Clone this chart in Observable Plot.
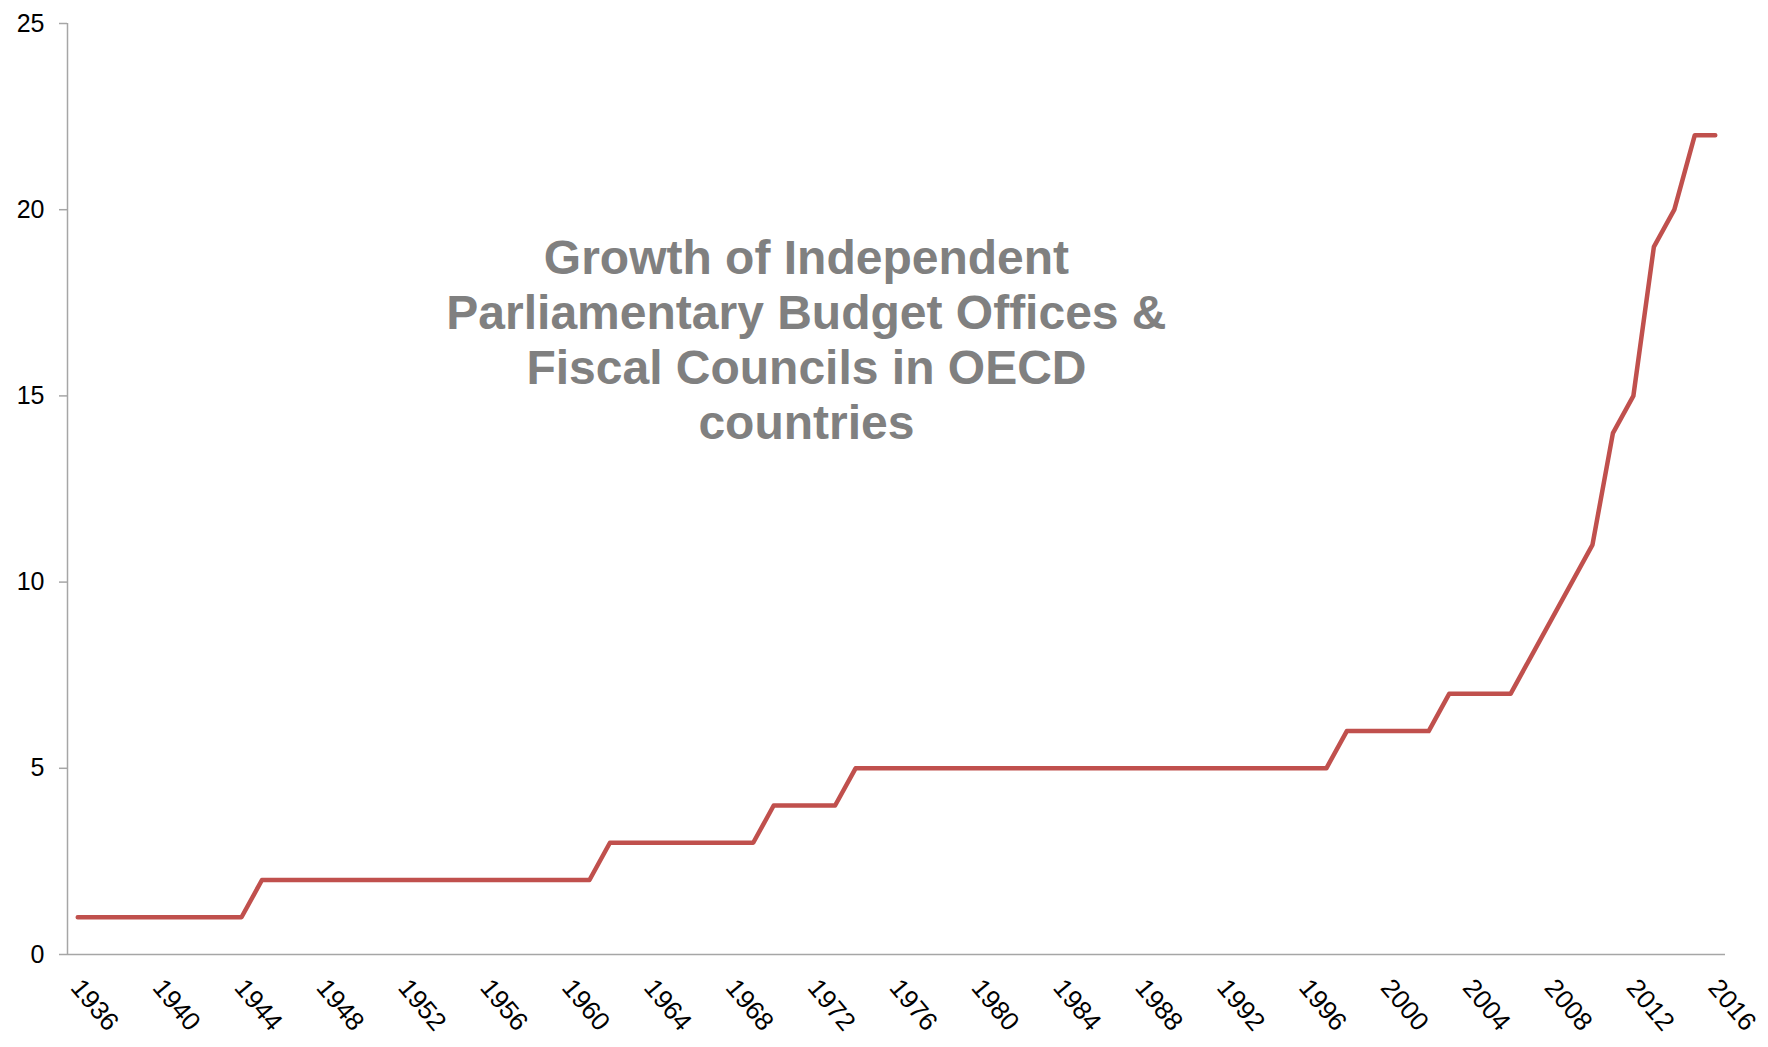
<!DOCTYPE html>
<html>
<head>
<meta charset="utf-8">
<script src="https://cdn.jsdelivr.net/npm/d3@7"></script>
<script src="https://cdn.jsdelivr.net/npm/@observablehq/plot@0.6"></script>
<style>
  html, body { margin: 0; padding: 0; background: #fff; overflow: hidden; }
  #chart svg { display: block; }
</style>
</head>
<body>
<div id="chart"></div>
<script>
// Years (categories)
const years = [
  1936, 1937, 1938, 1939, 1940, 1941, 1942, 1943, 1944, 1945,
  1946, 1947, 1948, 1949, 1950, 1951, 1952, 1953, 1954, 1955,
  1956, 1957, 1958, 1959, 1960, 1961, 1962, 1963, 1964, 1965,
  1966, 1967, 1968, 1969, 1970, 1971, 1972, 1973, 1974, 1975,
  1976, 1977, 1978, 1979, 1980, 1981, 1982, 1983, 1984, 1985,
  1986, 1987, 1988, 1989, 1990, 1991, 1992, 1993, 1994, 1995,
  1996, 1997, 1998, 1999, 2000, 2001, 2002, 2003, 2004, 2005,
  2006, 2007, 2008, 2009, 2010, 2011, 2012, 2013, 2014, 2015,
  2016
];
// Number of independent PBOs & fiscal councils
const counts = [
  1, 1, 1, 1, 1, 1, 1, 1, 1, 2,
  2, 2, 2, 2, 2, 2, 2, 2, 2, 2,
  2, 2, 2, 2, 2, 2, 3, 3, 3, 3,
  3, 3, 3, 3, 4, 4, 4, 4, 5, 5,
  5, 5, 5, 5, 5, 5, 5, 5, 5, 5,
  5, 5, 5, 5, 5, 5, 5, 5, 5, 5,
  5, 5, 6, 6, 6, 6, 6, 7, 7, 7,
  7, 8, 9, 10, 11, 14, 15, 19, 20, 22,
  22
];
const xTickLabels = [1936, 1940, 1944, 1948, 1952, 1956, 1960, 1964, 1968, 1972,
  1976, 1980, 1984, 1988, 1992, 1996, 2000, 2004, 2008, 2012, 2016];
const yTickLabels = [0, 5, 10, 15, 20, 25];
const titleText = "Growth of Independent\nParliamentary Budget Offices &\nFiscal Councils in OECD\ncountries";

const data = years.map((year, i) => ({year, value: counts[i]}));

const FONT = "'Liberation Sans', Arial, Helvetica, sans-serif";
const AXIS = "#A6A6A6";

const chart = Plot.plot({
  width: 1768,
  height: 1047,
  marginLeft: 67,
  marginRight: 43,
  marginTop: 23,
  marginBottom: 93,
  style: {fontFamily: FONT, fontSize: "25px", background: "#fff", color: "#000"},
  x: {type: "linear", domain: [years[0] - 0.5, years[years.length - 1] + 0.5], axis: null},
  y: {domain: [0, 25], axis: null},
  marks: [
    // y axis ticks + labels
    Plot.axisY(yTickLabels, {
      anchor: "left", tickSize: 8, tickPadding: 15, stroke: AXIS, strokeWidth: 1.5,
      fill: "#000", fontSize: 25, tickFormat: d => String(d), label: null
    }),
    // axis lines
    Plot.ruleX([years[0] - 0.5], {stroke: AXIS, strokeWidth: 1.5}),
    Plot.ruleY([0], {stroke: AXIS, strokeWidth: 1.5}),
    // x tick labels, rotated
    Plot.text(xTickLabels, {
      x: d => d, y: () => 0, text: d => String(d),
      rotate: 50, textAnchor: "start", lineAnchor: "top",
      dx: 6, dy: 22, fontSize: 26, fill: "#000"
    }),
    // data line
    Plot.line(data, {
      x: "year", y: "value", stroke: "#C0504D", strokeWidth: 4.5,
      strokeLinecap: "round", strokeLinejoin: "round"
    }),
    // title inside chart
    Plot.text([titleText], {
      x: () => 1971.6, y: () => 19.33, text: d => d,
      textAnchor: "middle", lineAnchor: "top", lineHeight: 1.146,
      fontSize: 48, fontWeight: "bold", fill: "#808080"
    })
  ]
});
document.getElementById("chart").appendChild(chart);
</script>
</body>
</html>
